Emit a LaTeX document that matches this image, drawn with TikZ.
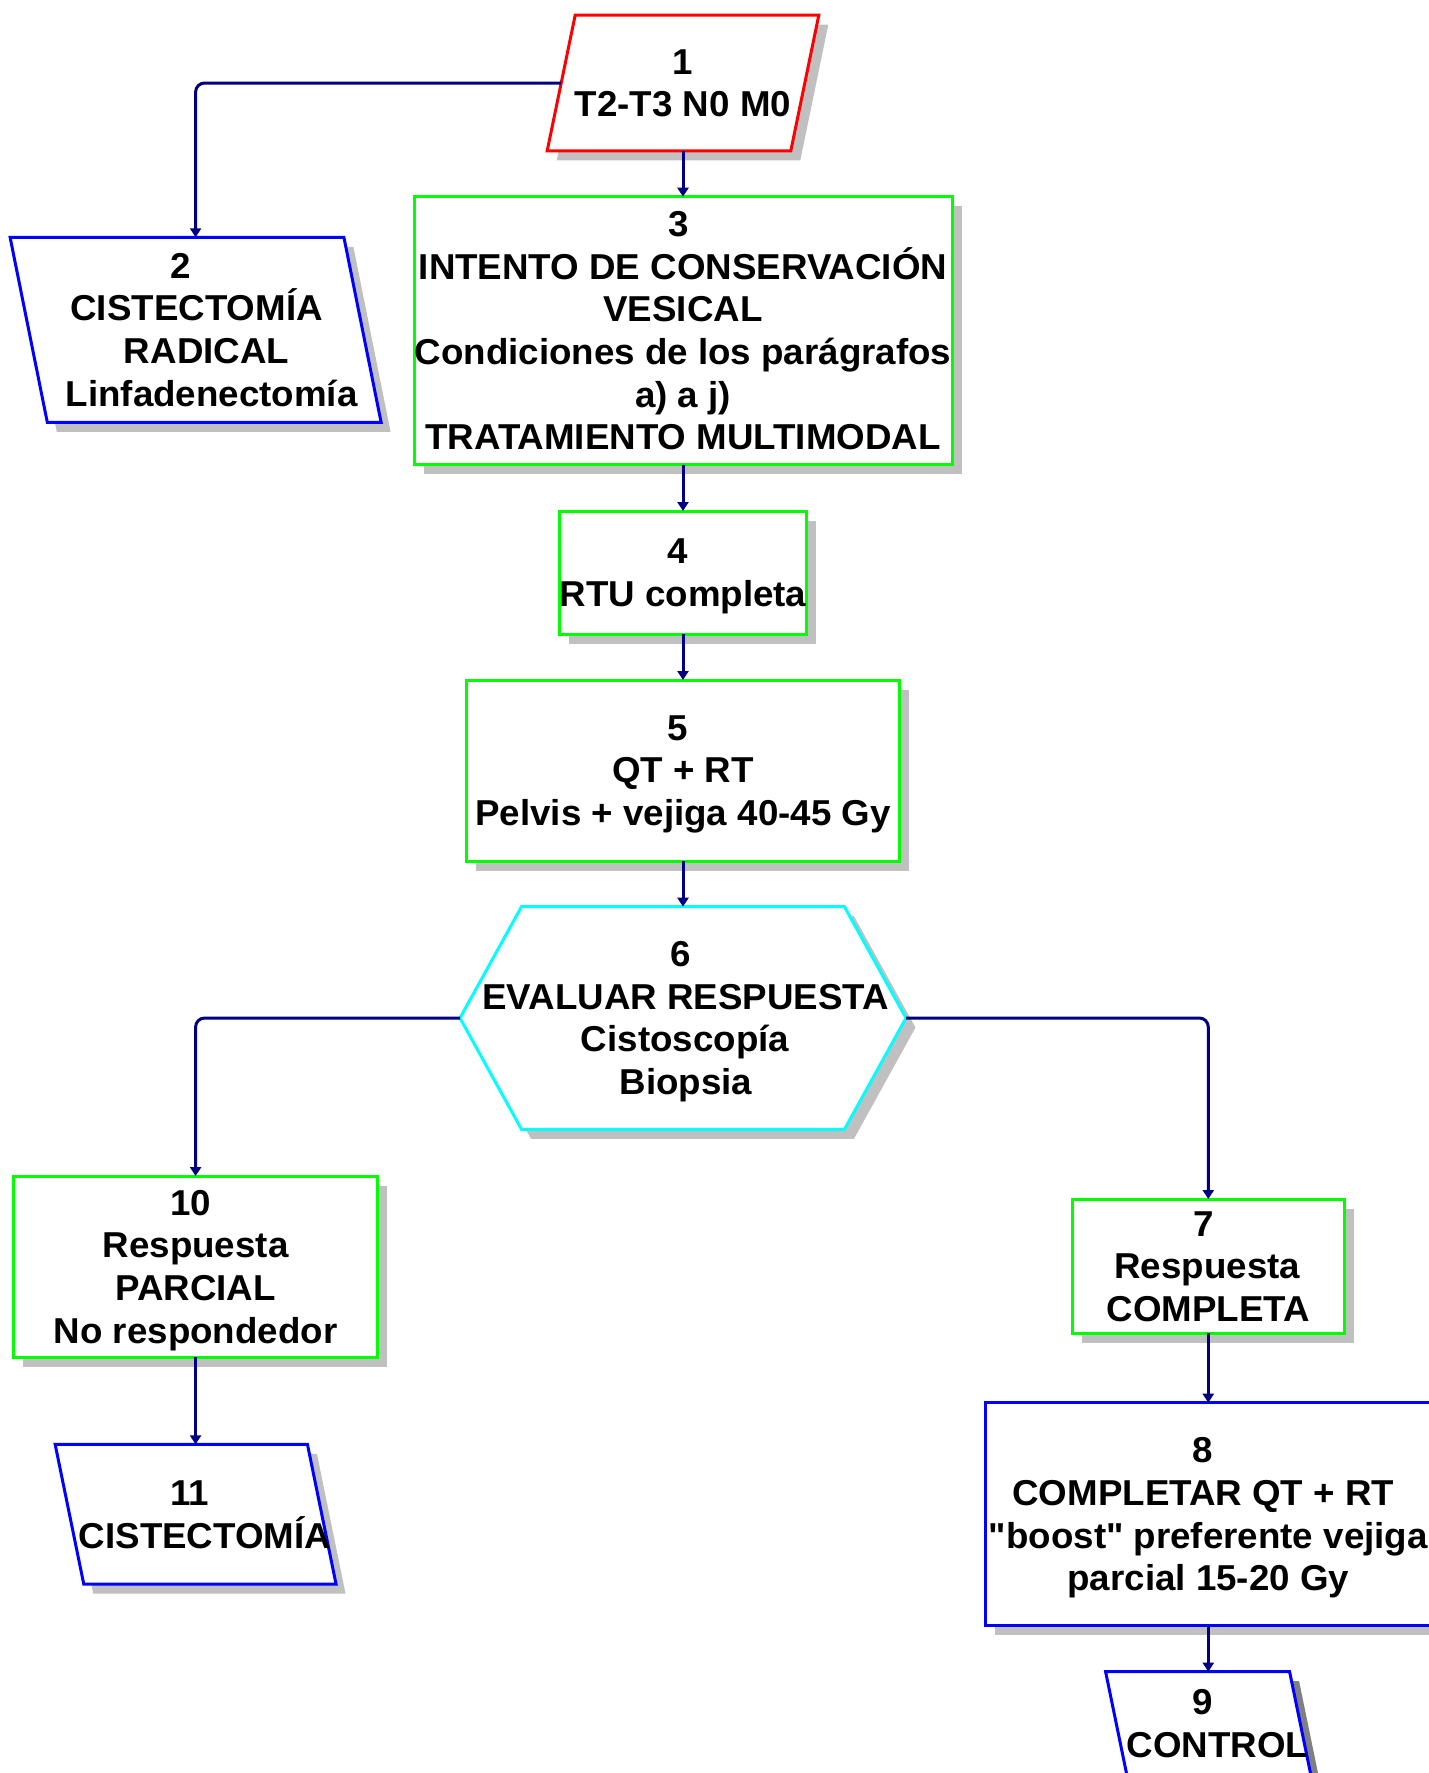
\documentclass[tikz,border=0pt]{standalone}
\usepackage{fontspec}
\setmainfont{Liberation Sans}[Ligatures=TeXOff, FakeStretch=1.02]
\usetikzlibrary{arrows.meta,calc,backgrounds,shadows}

\definecolor{navyline}{RGB}{0,0,128}
\definecolor{shadowgray}{RGB}{192,192,192}
\definecolor{darkshadow}{RGB}{128,128,128}
\definecolor{boxgreen}{RGB}{0,255,0}
\definecolor{boxblue}{RGB}{0,0,255}
\definecolor{boxred}{RGB}{255,0,0}
\definecolor{boxcyan}{RGB}{0,255,255}

% one text line: fixed ascent/descent strut, content nudged sideways by #1
\newcommand\tline[2]{\rule[-7.6pt]{0pt}{40.2pt}\kern#1\relax #2\kern-#1\relax}

\tikzset{
  labeltext/.style={font=\fontsize{36}{42.7}\selectfont\bfseries, align=center,
    inner sep=0pt, outer sep=0pt, shape=rectangle},
  shadowed/.style={drop shadow={shadow xshift=9.5pt, shadow yshift=-9.5pt,
    fill=#1, opacity=1}},
  holder/.style={labeltext},
  stepbox/.style={labeltext, draw=#1, line width=3pt, fill=white, shadowed=shadowgray},
  outline/.style={draw=#1, line width=3pt, fill=white, line join=miter},
  conn/.style={draw=navyline, line width=3pt, rounded corners=9pt,
    -{Triangle[width=11pt,length=9pt]}},
}

\begin{document}
\begin{tikzpicture}[x=1pt, y=-1pt]
\useasboundingbox (0,0) rectangle (1429,1773);

% nodes of the main column
\node[holder, minimum width=243.6pt, minimum height=135.7pt] (n1) at (683,83)
  {\tline{0pt}{1}\\\tline{0pt}{T2-T3 N0 M0}};
\node[stepbox=boxgreen, minimum width=538pt, minimum height=268pt] (n3) at (683,330.7)
  {\tline{-4.5pt}{3}\\\tline{0pt}{INTENTO DE CONSERVACIÓN}\\\tline{0pt}{VESICAL}\\
   \tline{0pt}{Condiciones de los parágrafos}\\\tline{0pt}{a) a j)}\\
   \tline{0pt}{TRATAMIENTO MULTIMODAL}};
\node[stepbox=boxgreen, minimum width=246.4pt, minimum height=123.2pt] (n4) at (683,572.6)
  {\tline{-5pt}{4}\\\tline{0pt}{RTU completa}};
\node[stepbox=boxgreen, minimum width=432.7pt, minimum height=181pt] (n5) at (683,770.5)
  {\tline{-5pt}{5}\\\tline{0pt}{QT + RT}\\\tline{0pt}{Pelvis + vejiga 40-45 Gy}};
\node[holder, minimum width=446pt, minimum height=222.6pt] (n6) at (683,1018)
  {\tline{-2.5pt}{6}\\\tline{2.8pt}{EVALUAR RESPUESTA}\\\tline{2pt}{Cistoscopía}\\
   \tline{2.8pt}{Biopsia}};

% left column
\node[holder, minimum width=333.8pt, minimum height=185pt] (n2) at (195.6,329.8)
  {\tline{-15pt}{2}\\\tline{1pt}{CISTECTOMÍA}\\\tline{11pt}{RADICAL}\\
   \tline{16pt}{Linfadenectomía}};
\node[stepbox=boxgreen, minimum width=363.7pt, minimum height=181.3pt] (n10) at (195.6,1266.7)
  {\tline{-5pt}{10}\\\tline{0pt}{Respuesta}\\\tline{0pt}{PARCIAL}\\
   \tline{0pt}{No respondedor}};
\node[holder, minimum width=250.7pt, minimum height=139.7pt] (n11) at (195.6,1514.2)
  {\tline{-5.6pt}{11}\\\tline{9.4pt}{CISTECTOMÍA}};

% right column
\node[stepbox=boxgreen, minimum width=272pt, minimum height=134.3pt] (n7) at (1208.3,1266.2)
  {\tline{-5pt}{7}\\\tline{-1pt}{Respuesta}\\\tline{0pt}{COMPLETA}};
\node[stepbox=boxblue, minimum width=446pt, minimum height=223pt] (n8) at (1208.3,1514.2)
  {\tline{-6pt}{8}\\\tline{-5pt}{COMPLETAR QT + RT}\\\tline{0pt}{"boost" preferente vejiga}\\
   \tline{0pt}{parcial 15-20 Gy}};
\node[holder, minimum width=184pt, minimum height=104pt] (n9) at (1208.3,1723.7)
  {\tline{-6pt}{9}\\\tline{9pt}{CONTROL}};

% slanted and hexagonal outlines behind the texts
\begin{scope}[on background layer]
  \draw[outline=boxred, shadowed=shadowgray]
    ($(n1.north west)+(14,0)$) -- ($(n1.north east)+(14,0)$) --
    ($(n1.south east)+(-14,0)$) -- ($(n1.south west)+(-14,0)$) -- cycle;
  \draw[outline=boxblue, shadowed=shadowgray]
    ($(n2.north west)+(-18.6,0)$) -- ($(n2.north east)+(-18.6,0)$) --
    ($(n2.south east)+(18.6,0)$) -- ($(n2.south west)+(18.6,0)$) -- cycle;
  \draw[outline=boxblue, shadowed=shadowgray]
    ($(n11.north west)+(-14.3,0)$) -- ($(n11.north east)+(-14.3,0)$) --
    ($(n11.south east)+(14.3,0)$) -- ($(n11.south west)+(14.3,0)$) -- cycle;
  \draw[outline=boxblue, shadowed=darkshadow]
    ($(n9.north west)+(-10.7,0)$) -- ($(n9.north east)+(-10.7,0)$) --
    ($(n9.south east)+(10.7,0)$) -- ($(n9.south west)+(10.7,0)$) -- cycle;
  \draw[outline=boxcyan, shadowed=shadowgray]
    (n6.west) -- ($(n6.north west)+(61.5,0)$) -- ($(n6.north east)+(-61.5,0)$) --
    (n6.east) -- ($(n6.south east)+(-61.5,0)$) -- ($(n6.south west)+(61.5,0)$) -- cycle;
\end{scope}

% connectors
\draw[conn] (n1.west) -| (n2.north);
\draw[conn] (n1.south) -- (n3.north);
\draw[conn] (n3.south) -- (n4.north);
\draw[conn] (n4.south) -- (n5.north);
\draw[conn] (n5.south) -- (n6.north);
\draw[conn] (n6.west) -| (n10.north);
\draw[conn] (n6.east) -| (n7.north);
\draw[conn] (n10.south) -- (n11.north);
\draw[conn] (n7.south) -- (n8.north);
\draw[conn] (n8.south) -- (n9.north);
\end{tikzpicture}
\end{document}
